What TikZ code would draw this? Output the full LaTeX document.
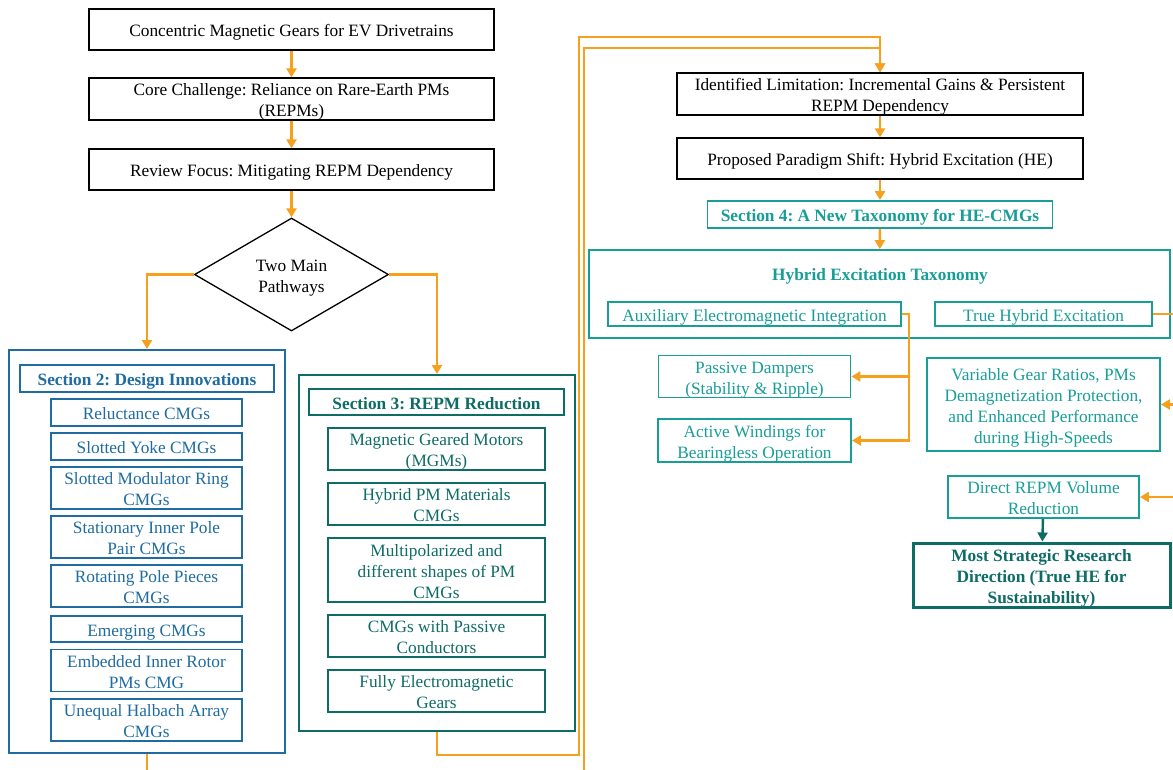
\documentclass[tikz,border=0pt]{standalone}
\usepackage{fontspec}
\setmainfont{Liberation Serif}
\usetikzlibrary{arrows.meta,shapes.geometric}
\definecolor{org}{RGB}{246,160,30}
\definecolor{blu}{RGB}{30,108,160}
\definecolor{dtl}{RGB}{14,108,102}
\definecolor{tl}{RGB}{24,158,152}
\frenchspacing
\newcommand\tx[1]{\raisebox{-3pt}[\height][\depth]{\begin{tabular}{@{}c@{}}#1\end{tabular}}}
\begin{document}
\begin{tikzpicture}[x=1pt,y=-1pt,
  every node/.style={font=\fontsize{17.3}{21}\selectfont, align=center, inner sep=0pt},
  bbox/.style={draw=black, line width=1.3pt, text=black},
  bluout/.style={draw=blu, line width=2pt},
  blubox/.style={draw=blu, line width=1.8pt, text=blu},
  dtlout/.style={draw=dtl, line width=2pt},
  dtlbox/.style={draw=dtl, line width=1.8pt, text=dtl},
  tlbox/.style={draw=tl, line width=1.8pt, text=tl},
  oline/.style={draw=org, line width=2.6pt},
  oarr/.style={oline, -{Triangle[length=9pt,width=10pt]}},
  darr/.style={draw=dtl, line width=2.4pt, -{Triangle[length=9pt,width=10pt]}},
]
\useasboundingbox (0,0) rectangle (1173,769);
\clip (0,0) rectangle (1173,769);
\fill[white] (0,0) rectangle (1173,769);

% left column top
\node[bbox, minimum width=405pt, minimum height=41pt] (title) at (291.5,29.5) {\tx{Concentric Magnetic Gears for EV Drivetrains}};
\node[bbox, minimum width=405pt, minimum height=42pt] (core) at (291.5,99) {\tx{Core Challenge: Reliance on Rare-Earth PMs\\(REPMs)}};
\node[bbox, minimum width=405pt, minimum height=41pt] (focus) at (291.5,169.5) {\tx{Review Focus: Mitigating REPM Dependency}};
\node[draw=black, line width=1.3pt, shape=diamond, aspect=1.72, minimum width=194pt, minimum height=113pt] (diam) at (291.5,274.5) {\tx{Two Main\\Pathways}};

% section 2
\node[bluout, minimum width=276pt, minimum height=403pt] (sec2) at (147,551.5) {};
\node[blubox, minimum width=254pt, minimum height=27pt, font=\fontsize{17.3}{21}\selectfont\bfseries] (s2t) at (147,378.5) {\tx{Section 2: Design Innovations}};
\node[blubox, minimum width=191pt, minimum height=27pt] (s2a) at (146.5,412.5) {\tx{Reluctance CMGs}};
\node[blubox, minimum width=191pt, minimum height=27pt] (s2b) at (146.5,446.5) {\tx{Slotted Yoke CMGs}};
\node[blubox, minimum width=191pt, minimum height=42pt] (s2c) at (146.5,488) {\tx{Slotted Modulator Ring\\CMGs}};
\node[blubox, minimum width=191pt, minimum height=42pt] (s2d) at (146.5,537) {\tx{Stationary Inner Pole\\Pair CMGs}};
\node[blubox, minimum width=191pt, minimum height=42pt] (s2e) at (146.5,586) {\tx{Rotating Pole Pieces\\CMGs}};
\node[blubox, minimum width=191pt, minimum height=26pt] (s2f) at (146.5,629) {\tx{Emerging CMGs}};
\node[blubox, minimum width=191pt, minimum height=41pt] (s2g) at (146.5,670.5) {\tx{Embedded Inner Rotor\\PMs CMG}};
\node[blubox, minimum width=191pt, minimum height=42pt] (s2h) at (146.5,720) {\tx{Unequal Halbach Array\\CMGs}};

% section 3
\node[dtlout, minimum width=276pt, minimum height=356pt] (sec3) at (437,553) {};
\node[dtlbox, minimum width=255pt, minimum height=26pt, font=\fontsize{17.3}{21}\selectfont\bfseries] (s3t) at (436.5,402) {\tx{Section 3: REPM Reduction}};
\node[dtlbox, minimum width=217pt, minimum height=42pt] (s3a) at (436.5,449) {\tx{Magnetic Geared Motors\\(MGMs)}};
\node[dtlbox, minimum width=217pt, minimum height=42pt] (s3b) at (436.5,504) {\tx{Hybrid PM Materials\\CMGs}};
\node[dtlbox, minimum width=217pt, minimum height=64pt] (s3c) at (436.5,570) {\tx{Multipolarized and\\different shapes of PM\\CMGs}};
\node[dtlbox, minimum width=217pt, minimum height=42pt] (s3d) at (436.5,636) {\tx{CMGs with Passive\\Conductors}};
\node[dtlbox, minimum width=217pt, minimum height=42pt] (s3e) at (436.5,691) {\tx{Fully Electromagnetic\\Gears}};

% right column
\node[bbox, minimum width=406pt, minimum height=42pt] (lim) at (880,94) {\tx{Identified Limitation: Incremental Gains \& Persistent\\REPM Dependency}};
\node[bbox, minimum width=406pt, minimum height=41pt] (prop) at (880,158.5) {\tx{Proposed Paradigm Shift: Hybrid Excitation (HE)}};
\node[tlbox, minimum width=345pt, minimum height=27pt, font=\fontsize{17.3}{21}\selectfont\bfseries] (sec4) at (880,214.5) {\tx{Section 4: A New Taxonomy for HE-CMGs}};
\node[tlbox, minimum width=581pt, minimum height=88pt] (tax) at (879.5,294) {};
\node[text=tl, font=\fontsize{17.3}{21}\selectfont\bfseries] (taxt) at (880,273) {\tx{Hybrid Excitation Taxonomy}};
\node[tlbox, minimum width=293pt, minimum height=24pt] (aux) at (754.5,314) {\tx{Auxiliary Electromagnetic Integration}};
\node[tlbox, minimum width=217pt, minimum height=24pt] (the) at (1043.5,314) {\tx{True Hybrid Excitation}};
\node[tlbox, minimum width=192pt, minimum height=41pt] (pas) at (754.5,376.5) {\tx{Passive Dampers\\(Stability \& Ripple)}};
\node[tlbox, minimum width=193pt, minimum height=43pt] (act) at (754.5,440.5) {\tx{Active Windings for\\Bearingless Operation}};
\node[tlbox, minimum width=233pt, minimum height=93pt] (var) at (1043.5,404.5) {\tx{Variable Gear Ratios, PMs\\Demagnetization Protection,\\and Enhanced Performance\\during High-Speeds}};
\node[tlbox, minimum width=191pt, minimum height=42pt] (dir) at (1043.5,497) {\tx{Direct REPM Volume\\Reduction}};
\node[draw=dtl, line width=3pt, text=dtl, minimum width=257pt, minimum height=64pt, font=\fontsize{17.3}{21}\selectfont\bfseries] (most) at (1041.5,575) {\tx{Most Strategic Research\\Direction (True HE for\\Sustainability)}};

% connectors
\draw[oarr] (title) -- (core);
\draw[oarr] (core) -- (focus);
\draw[oarr] (focus) -- (diam);
\draw[oarr] (diam.west) -| (sec2.north);
\draw[oarr] (diam.east) -| (sec3.north);
\draw[oarr] (sec3.south) |- (579,755) |- (880,37) -- (lim.north);
\draw[oarr] (sec2.south) |- (584,800) |- (880,48) -- (lim.north);
\draw[oarr] (lim) -- (prop);
\draw[oarr] (prop) -- (sec4);
\draw[oarr] (sec4) -- (tax);
\coordinate (auxj) at (909,376.5);
\draw[oarr] (aux.east) -| (auxj) -- (pas.east);
\draw[oarr] (auxj) |- (act.east);
\coordinate (thej) at (1195,497);
\draw[oline] (the.east) -| (thej);
\draw[oarr] (1195,404.5) -- (var.east);
\draw[oarr] (thej) -- (dir.east);
\draw[darr] (dir) -- (most);
\end{tikzpicture}
\end{document}
